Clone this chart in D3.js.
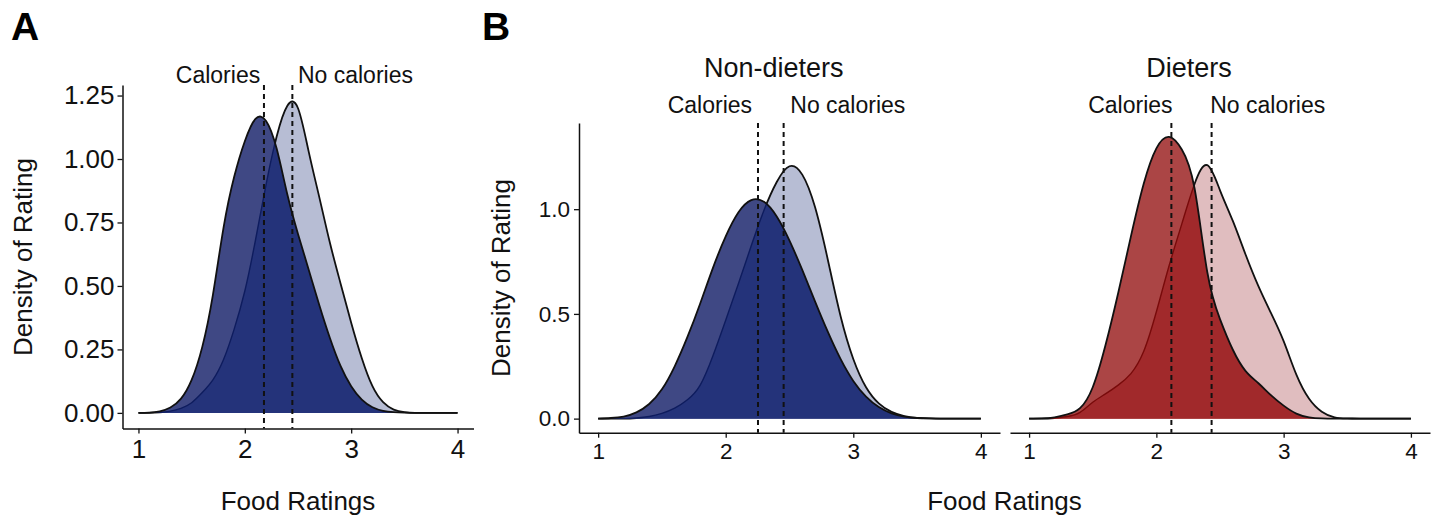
<!DOCTYPE html>
<html><head><meta charset="utf-8">
<script src="https://cdn.jsdelivr.net/npm/d3@7"></script>
<style>
html,body{margin:0;padding:0;background:#fff;}
svg{display:block;font-family:"Liberation Sans",Arial,Helvetica,sans-serif;}
</style></head><body>
<svg id="chart" width="1432" height="516"></svg>
<script>
// ---------- data ----------
const ratings = [1.0,1.1,1.2,1.3,1.4,1.5,1.6,1.7,1.8,1.9,2.0,2.1,2.2,2.3,2.4,2.5,2.6,2.7,2.8,2.9,3.0,3.1,3.2,3.3,3.4,3.5,3.6,3.7,3.8,3.9,4.0];
const xTicks = [1,2,3,4];
const yTicksA = [0,0.25,0.5,0.75,1.0,1.25];
const yTicksB = [0,0.5,1.0];
const groupNames = ["Calories","No calories"];
const panelTitles = ["Non-dieters","Dieters"];

// Panel A (all participants)
const densA_calories   = [0,0.001,0.006,0.021,0.056,0.13,0.26,0.465,0.73,0.93,1.07,1.158,1.15,1.04,0.86,0.705,0.565,0.425,0.295,0.185,0.105,0.052,0.022,0.008,0.003,0.001,0,0,0,0,0];
const densA_noCalories = [0,0,0.002,0.007,0.018,0.04,0.08,0.13,0.21,0.33,0.48,0.68,0.90,1.09,1.21,1.20,1.03,0.85,0.67,0.51,0.355,0.215,0.105,0.042,0.013,0.003,0,0,0,0,0];
// Panel B, non-dieters
const densND_calories   = [0,0.003,0.01,0.03,0.07,0.14,0.25,0.39,0.55,0.72,0.87,0.985,1.043,1.035,0.965,0.85,0.71,0.56,0.415,0.285,0.18,0.105,0.055,0.025,0.01,0.003,0.001,0,0,0,0];
const densND_noCalories = [0,0,0,0.003,0.01,0.025,0.05,0.09,0.16,0.30,0.47,0.645,0.825,0.995,1.13,1.205,1.165,1.01,0.76,0.49,0.285,0.15,0.073,0.032,0.012,0.004,0.001,0,0,0,0];
// Panel B, dieters
const densD_calories   = [0,0.001,0.006,0.02,0.05,0.15,0.35,0.60,0.87,1.12,1.29,1.345,1.285,1.10,0.70,0.475,0.33,0.228,0.17,0.112,0.062,0.024,0.006,0.001,0,0,0,0,0,0,0];
const densD_noCalories = [0,0,0.003,0.01,0.03,0.078,0.118,0.16,0.215,0.32,0.51,0.73,0.93,1.12,1.21,1.09,0.945,0.785,0.635,0.505,0.37,0.21,0.095,0.033,0.006,0.001,0,0,0,0,0];

// group means (dashed lines): [Calories, No calories]
const meansA  = [2.18, 2.447];
const meansND = [2.253, 2.454];
const meansD  = [2.118, 2.434];
// label centres (rating units)
const labelPosA  = [1.748, 3.04];
const labelPosND = [1.876, 2.957];
const labelPosD  = [1.796, 2.875];
const titlePos   = [2.376, 2.256];

// ---------- styles ----------
const bluePal = {light:"#b7bdd4", dark:"#3f4884", overlap:"#24337a", inner:"#0e1c5e"};
const redPal  = {light:"#e0bdbf", dark:"#ab4545", overlap:"#a1292b", inner:"#780a0a"};
const INK = "#111";

const svg = d3.select("#chart");
const defs = svg.append("defs");

function drawDensities(x, y, cal, nocal, pal, id){
  const ptsC = ratings.map((r,i)=>[r,cal[i]]);
  const ptsN = ratings.map((r,i)=>[r,nocal[i]]);
  const area = d3.area().x(d=>x(d[0])).y0(y(0)).y1(d=>y(d[1])).curve(d3.curveNatural);
  const line = d3.line().x(d=>x(d[0])).y(d=>y(d[1])).curve(d3.curveNatural);
  defs.append("clipPath").attr("id",id).append("path").attr("d",area(ptsC));
  const g = svg.append("g");
  g.append("path").attr("d",area(ptsN)).attr("fill",pal.light);
  g.append("path").attr("d",line(ptsN)).attr("fill","none").attr("stroke",INK).attr("stroke-width",1.8);
  g.append("path").attr("d",area(ptsC)).attr("fill",pal.dark);
  g.append("path").attr("d",area(ptsN)).attr("fill",pal.overlap).attr("clip-path",`url(#${id})`);
  g.append("path").attr("d",line(ptsN)).attr("fill","none").attr("stroke",pal.inner).attr("stroke-width",1.4).attr("clip-path",`url(#${id})`);
  g.append("path").attr("d",line(ptsC)).attr("fill","none").attr("stroke",INK).attr("stroke-width",1.8);
}

function drawMeans(x, y, means, labelPos, labelY){
  const [y0,y1] = y.range();
  svg.append("g").selectAll("line").data(means).join("line")
    .attr("x1",d=>x(d)).attr("x2",d=>x(d)).attr("y1",y1).attr("y2",y0)
    .attr("stroke",INK).attr("stroke-width",2).attr("stroke-dasharray","5,4");
  svg.append("g").selectAll("text").data(groupNames).join("text")
    .attr("x",(d,i)=>x(labelPos[i])).attr("y",labelY).attr("text-anchor","middle")
    .attr("font-size",23).attr("fill",INK).text(d=>d);
}

function styleAxis(sel, fs){
  sel.select(".domain").attr("stroke",INK).attr("stroke-width",1.5);
  sel.selectAll(".tick line").attr("stroke",INK).attr("stroke-width",1.3);
  sel.selectAll(".tick text").attr("font-size",fs).attr("fill",INK).attr("font-family","Liberation Sans, Arial, sans-serif");
}

// ---------- Panel A ----------
const xA = d3.scaleLinear().domain([0.85,4.15]).range([122.5,473.5]);
const yA = d3.scaleLinear().domain([-0.0615,1.2915]).range([428.5,85]);
drawDensities(xA, yA, densA_calories, densA_noCalories, bluePal, "clipA");
drawMeans(xA, yA, meansA, labelPosA, 83);
svg.append("g").attr("transform",`translate(0,${yA.range()[0]})`)
  .call(d3.axisBottom(xA).tickValues(xTicks).tickFormat(d3.format("d")).tickSize(5).tickSizeOuter(0).tickPadding(6))
  .call(s=>styleAxis(s,26));
svg.append("g").attr("transform",`translate(${xA.range()[0]},0)`)
  .call(d3.axisLeft(yA).tickValues(yTicksA).tickFormat(d3.format(".2f")).tickSize(5).tickSizeOuter(0).tickPadding(3))
  .call(s=>styleAxis(s,26));
svg.append("text").attr("transform","translate(31.5,257) rotate(-90)").attr("text-anchor","middle")
  .attr("font-size",26).attr("fill",INK).text("Density of Rating");
svg.append("text").attr("x",298).attr("y",510).attr("text-anchor","middle")
  .attr("font-size",26).attr("fill",INK).text("Food Ratings");
svg.append("text").attr("x",11).attr("y",40).attr("font-size",39).attr("font-weight","bold").attr("fill","#000").text("A");

// ---------- Panel B ----------
const yB = d3.scaleLinear().domain([-0.0672,1.4115]).range([432.7,123]);
const xND = d3.scaleLinear().domain([0.85,4.15]).range([579,1000]);
const xD  = d3.scaleLinear().domain([0.85,4.15]).range([1010,1430]);

drawDensities(xND, yB, densND_calories, densND_noCalories, bluePal, "clipND");
drawMeans(xND, yB, meansND, labelPosND, 113);
drawDensities(xD, yB, densD_calories, densD_noCalories, redPal, "clipD");
drawMeans(xD, yB, meansD, labelPosD, 113);

[xND, xD].forEach(xs=>{
  svg.append("g").attr("transform",`translate(0,${yB.range()[0]})`)
    .call(d3.axisBottom(xs).tickValues(xTicks).tickFormat(d3.format("d")).tickSize(5).tickSizeOuter(0).tickPadding(5))
    .call(s=>styleAxis(s,22.5));
});
svg.append("g").attr("transform",`translate(${xND.range()[0]},0)`)
  .call(d3.axisLeft(yB).tickValues(yTicksB).tickFormat(d3.format(".1f")).tickSize(5).tickSizeOuter(0).tickPadding(4))
  .call(s=>styleAxis(s,22.5));

svg.append("text").attr("x",xND(titlePos[0])).attr("y",77).attr("text-anchor","middle")
  .attr("font-size",27).attr("fill",INK).text(panelTitles[0]);
svg.append("text").attr("x",xD(titlePos[1])).attr("y",77).attr("text-anchor","middle")
  .attr("font-size",27).attr("fill",INK).text(panelTitles[1]);

svg.append("text").attr("transform","translate(510,278) rotate(-90)").attr("text-anchor","middle")
  .attr("font-size",26).attr("fill",INK).text("Density of Rating");
svg.append("text").attr("x",1004.5).attr("y",510).attr("text-anchor","middle")
  .attr("font-size",26).attr("fill",INK).text("Food Ratings");
svg.append("text").attr("x",482).attr("y",40).attr("font-size",39).attr("font-weight","bold").attr("fill","#000").text("B");
</script>
</body></html>
